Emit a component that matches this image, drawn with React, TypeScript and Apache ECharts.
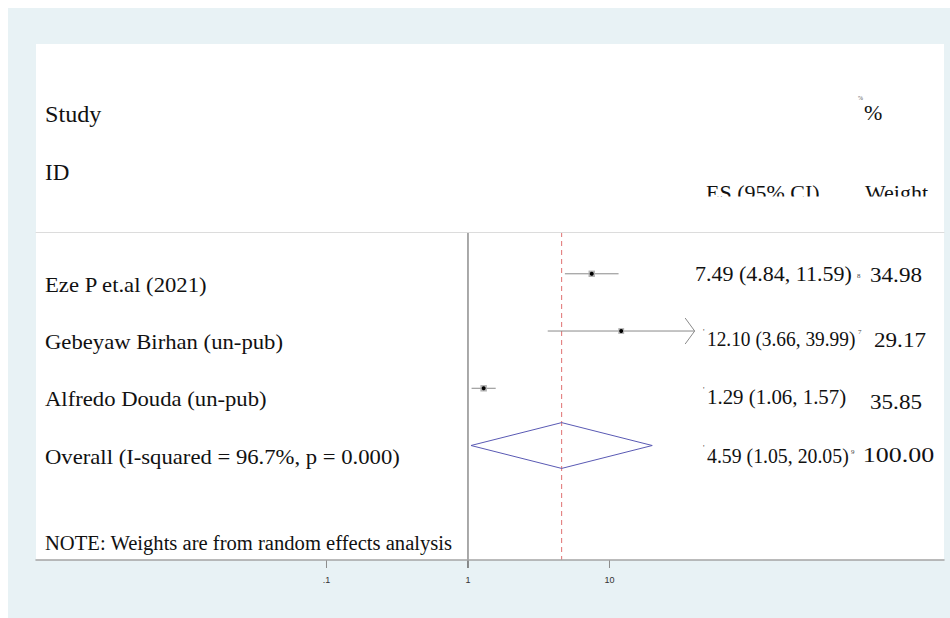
import { useEffect, useRef } from "react";
import * as echarts from "echarts";

// ---------- data ----------
const studyLabels = ["Eze P et.al (2021)", "Gebeyaw Birhan (un-pub)", "Alfredo Douda (un-pub)"];
const studyES = [7.49, 12.1, 1.29];
const studyLower = [4.84, 3.66, 1.06];
const studyUpper = [11.59, 39.99, 1.57];
const studyWeight = [34.98, 29.17, 35.85];
const studyCITruncated = [false, true, false];

const overallLabel = "Overall (I-squared = 96.7%, p = 0.000)";
const overallES = 4.59;
const overallLower = 1.05;
const overallUpper = 20.05;
const overallWeight = 100.0;

const nullValue = 1;
const tickValues = [0.1, 1, 10];
const tickLabels = [".1", "1", "10"];

const headerStudy = "Study";
const headerID = "ID";
const headerPct = "%";
const headerES = "ES (95% CI)";
const headerWeight = "Weight";
const noteText = "NOTE: Weights are from random effects analysis";
// stray glyphs visible around the ES column of the reference
const esMarksAfter = ["8", "7", "", "9"];

// ---------- layout (chart-local px) ----------
const X_MIN = -3.053;
const X_MAX = 3.364;
const Y_MIN = -0.73;
const Y_MAX = 5.0;
const SERIF = '"Liberation Serif", "Times New Roman", serif';
const LABEL_X = 37;
const LABEL_DY = 11.5;
const ES_X = [687, 699, 699, 699];
const ES_DY = [0, 8, 9, 10];
const ES_SX = [1.0, 0.88, 0.95, 0.9];
const WT_CX = [888, 892, 888, 890.5];
const WT_SX = [1.05, 1.05, 1.05, 1.18];
const WT_DY = [1, 8.5, 13, 9.5];
const MARK_POS = [
  [849, 2],
  [850, -7],
  [0, 0],
  [843, -4],
];

const lg = (v: number) => Math.log10(v);
const fmt = (es: number, lo: number, hi: number) =>
  `${es.toFixed(2)} (${lo.toFixed(2)}, ${hi.toFixed(2)})`;

function txt(text: string, x: number, y: number, size: number, sx: number, align = "left", z = 5, fill = "#111") {
  return {
    type: "text",
    x,
    y,
    scaleX: sx,
    z,
    style: {
      text,
      fill,
      font: `${size}px ${SERIF}`,
      textAlign: align,
      textVerticalAlign: "middle",
    },
  };
}

const maxW = Math.max(...studyWeight);

function rowTexts(i: number, cy: number, label: string, es: number, lo: number, hi: number, w: number) {
  const out: any[] = [];
  out.push(txt(label, LABEL_X, cy + LABEL_DY, 21, 1.08));
  out.push(txt(fmt(es, lo, hi), ES_X[i], cy + ES_DY[i], 22, ES_SX[i]));
  if (i > 0) out.push(txt("'", ES_X[i] - 4, cy + ES_DY[i] - 7, 8, 1, "left", 5, "#444"));
  if (esMarksAfter[i]) out.push(txt(esMarksAfter[i], MARK_POS[i][0], cy + ES_DY[i] + MARK_POS[i][1], 7, 1, "left", 5, "#444"));
  out.push(txt(w.toFixed(2), WT_CX[i], cy + WT_DY[i], 22, WT_SX[i], "center"));
  return out;
}

function buildOption(): any {
  const tickLogs = tickValues.map(lg);
  return {
    animation: false,
    backgroundColor: "#e8f2f5",
    grid: { left: 28, right: 6, top: 224, bottom: 58, containLabel: false },
    xAxis: [
      {
        type: "value",
        min: X_MIN,
        max: X_MAX,
        position: "bottom",
        z: 3,
        axisLine: { show: true, onZero: false, lineStyle: { color: "#a4a4a4", width: 1.5 } },
        axisTick: { show: false },
        axisLabel: {
          show: true,
          customValues: tickLogs,
          margin: 15,
          fontSize: 9,
          fontFamily: '"Liberation Sans", Arial, sans-serif',
          color: "#333",
          formatter: (v: number) => {
            const k = tickLogs.findIndex((t) => Math.abs(t - v) < 1e-6);
            return k >= 0 ? tickLabels[k] : "";
          },
        },
        splitLine: { show: false },
      },
      {
        type: "value",
        min: X_MIN,
        max: X_MAX,
        position: "top",
        z: 3,
        axisLine: { show: true, onZero: false, lineStyle: { color: "#dcdcdc", width: 1 } },
        axisTick: { show: false },
        axisLabel: { show: false },
        splitLine: { show: false },
      },
    ],
    yAxis: { type: "value", min: Y_MIN, max: Y_MAX, inverse: true, show: false, splitLine: { show: false } },
    series: [
      {
        type: "custom",
        name: "ticks",
        data: tickLogs.map((t) => [t, Y_MAX]),
        encode: { x: 0, y: 1 },
        z: 3,
        silent: true,
        renderItem: (params: any, api: any) => {
          const p = api.coord([api.value(0), api.value(1)]);
          return {
            type: "line",
            shape: { x1: p[0], y1: p[1], x2: p[0], y2: p[1] + 8 },
            style: { stroke: "#8c8c8c", lineWidth: 1 },
          };
        },
      },
      {
        type: "custom",
        name: "reference lines",
        data: [
          [lg(nullValue), 0],
          [lg(overallES), 1],
        ],
        encode: { x: 0 },
        z: 3,
        silent: true,
        renderItem: (params: any, api: any) => {
          const x = api.value(0);
          const top = api.coord([x, Y_MIN]);
          const bot = api.coord([x, Y_MAX]);
          if (params.dataIndex === 0) {
            return {
              type: "line",
              shape: { x1: top[0], y1: top[1], x2: bot[0], y2: bot[1] + 8 },
              style: { stroke: "#555555", lineWidth: 1 },
            };
          }
          return {
            type: "line",
            shape: { x1: top[0], y1: top[1], x2: bot[0], y2: bot[1] },
            style: { stroke: "#e07070", lineWidth: 1, lineDash: [5, 4] },
          };
        },
      },
      {
        type: "custom",
        name: "studies",
        data: studyES.map((v, i) => [lg(v), i]),
        encode: { x: 0, y: 1 },
        z: 4,
        renderItem: (params: any, api: any) => {
          const i = params.dataIndex;
          const row = api.value(1);
          const c = api.coord([lg(studyES[i]), row]);
          const l = api.coord([lg(studyLower[i]), row]);
          const h = api.coord([lg(studyUpper[i]), row]);
          const children: any[] = [];
          children.push({
            type: "line",
            shape: { x1: l[0], y1: l[1], x2: h[0], y2: h[1] },
            style: { stroke: "#8a8a8a", lineWidth: 1 },
          });
          if (studyCITruncated[i]) {
            children.push({
              type: "polyline",
              shape: { points: [[h[0] - 9.5, h[1] - 13], [h[0], h[1]], [h[0] - 9.5, h[1] + 13]] },
              style: { stroke: "#8a8a8a", fill: "none", lineWidth: 1 },
            });
          }
          const bs = 6.5 * Math.sqrt(studyWeight[i] / maxW);
          children.push({
            type: "rect",
            shape: { x: c[0] - bs / 2, y: c[1] - bs / 2, width: bs, height: bs },
            style: { fill: "#b4b4b4" },
          });
          children.push({ type: "circle", shape: { cx: c[0], cy: c[1], r: 2 }, style: { fill: "#000" } });
          children.push(...rowTexts(i, c[1], studyLabels[i], studyES[i], studyLower[i], studyUpper[i], studyWeight[i]));
          return { type: "group", children };
        },
      },
      {
        type: "custom",
        name: "overall",
        data: [[lg(overallES), 3]],
        encode: { x: 0, y: 1 },
        z: 4,
        renderItem: (params: any, api: any) => {
          const row = api.value(1);
          const l = api.coord([lg(overallLower), row]);
          const h = api.coord([lg(overallUpper), row]);
          const t = api.coord([lg(overallES), row - 0.4]);
          const b = api.coord([lg(overallES), row + 0.4]);
          const c = api.coord([lg(overallES), row]);
          return {
            type: "group",
            children: [
              {
                type: "polygon",
                shape: { points: [l, t, h, b] },
                style: { stroke: "#5a5ab4", fill: "none", lineWidth: 1 },
              },
              ...rowTexts(3, c[1], overallLabel, overallES, overallLower, overallUpper, overallWeight),
            ],
          };
        },
      },
    ],
    graphic: {
      elements: [
        { type: "rect", z: -1, shape: { x: 28, y: 36, width: 908, height: 516 }, style: { fill: "#ffffff" } },
        txt(headerStudy, 37, 106.5, 23, 1.05),
        txt(headerID, 37, 164, 23, 1.0),
        txt(headerPct, 856, 104, 22, 1.0),
        txt(headerPct, 850, 90, 6, 1.0, "left", 5, "#555"),
        txt(headerES, 698, 184.3, 22, 1.0),
        txt(headerWeight, 857, 184.3, 22, 1.0),
        { type: "rect", z: 6, shape: { x: 680, y: 188.5, width: 256, height: 20 }, style: { fill: "#ffffff" } },
        txt(noteText, 37, 535, 20, 1.03),
      ],
    },
  };
}

export default function App() {
  const ref = useRef<HTMLDivElement>(null);
  useEffect(() => {
    if (!ref.current) return;
    const chart = echarts.init(ref.current, null, { renderer: "svg" });
    chart.setOption(buildOption());
    return () => chart.dispose();
  }, []);
  return <div ref={ref} style={{ position: "absolute", left: 8, top: 8, width: 942, height: 610 }} />;
}
